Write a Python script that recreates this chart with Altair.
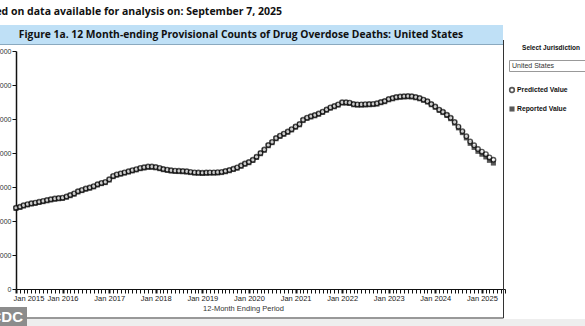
import altair as alt
import pandas as pd

# 12-month ending periods, Jan 2015 .. Apr 2025 (monthly)
periods = pd.date_range("2015-01-01", "2025-04-01", freq="MS").strftime("%Y-%m-%dT00:00:00").tolist()

predicted = [
    47.8, 48.4, 49.2, 49.9, 50.4, 50.8, 51.3, 51.8, 52.3, 52.8, 53.2, 53.5,
    53.7, 54.4, 55.3, 56.2, 57.5, 58.3, 59.1, 59.7, 60.5, 61.6, 62.4, 63.0,
    64.5, 66.5, 67.4, 68.0, 68.6, 69.2, 69.9, 70.5, 71.2, 71.6, 72.0, 72.0,
    71.7, 71.2, 70.6, 70.2, 69.8, 69.6, 69.5, 69.4, 69.2, 68.9, 68.6, 68.5,
    68.4, 68.5, 68.6, 68.6, 68.7, 68.9, 69.4, 70.0, 70.7, 71.5, 72.6, 73.8,
    74.7, 76.0, 77.8, 80.0, 82.0, 84.7, 86.5, 88.8, 90.2, 91.4, 92.6, 94.0,
    95.6, 97.0, 99.5, 100.8, 101.6, 102.3, 103.2, 104.3, 105.6, 106.8, 107.6, 108.6,
    109.8, 109.8, 109.6, 108.8, 108.6, 108.6, 108.7, 108.8, 108.9, 109.2, 110.0, 110.6,
    111.7, 112.3, 112.9, 113.2, 113.4, 113.5, 113.4, 112.9, 112.3, 111.4, 110.4, 108.8,
    107.3, 105.5, 104.2, 102.5, 100.7, 98.2, 95.5, 92.8, 89.8, 86.7, 84.5, 82.3,
    80.8, 79.3, 77.4, 76.0,
]

reported = [
    47.4, 48.0, 48.8, 49.5, 50.0, 50.4, 50.9, 51.4, 51.9, 52.4, 52.8, 53.1,
    53.3, 54.0, 54.9, 55.8, 57.1, 57.9, 58.7, 59.3, 60.1, 61.2, 62.0, 62.6,
    64.1, 66.1, 67.0, 67.6, 68.2, 68.8, 69.5, 70.1, 70.8, 71.2, 71.6, 71.6,
    71.3, 70.8, 70.2, 69.8, 69.4, 69.2, 69.1, 69.0, 68.8, 68.5, 68.2, 68.1,
    68.0, 68.1, 68.2, 68.2, 68.3, 68.5, 69.0, 69.6, 70.3, 71.1, 72.2, 73.4,
    74.3, 75.6, 77.4, 79.6, 81.6, 84.3, 86.1, 88.4, 89.8, 91.0, 92.2, 93.6,
    95.2, 96.6, 99.1, 100.4, 101.2, 101.9, 102.8, 103.9, 105.2, 106.4, 107.2, 108.2,
    109.4, 109.4, 109.2, 108.4, 108.2, 108.2, 108.3, 108.4, 108.5, 108.8, 109.6, 110.2,
    111.3, 111.9, 112.5, 112.8, 113.0, 113.1, 113.0, 112.5, 111.9, 111.0, 110.0, 108.4,
    106.9, 105.1, 103.8, 102.1, 100.2, 97.6, 94.8, 92.0, 88.9, 85.7, 83.3, 81.0,
    79.3, 77.7, 75.7, 74.1,
]

y_ticks = [0, 20000, 40000, 60000, 80000, 100000, 120000, 140000]

top_note = "Based on data available for analysis on: September 7, 2025"
fig_title = "Figure 1a. 12 Month-ending Provisional Counts of Drug Overdose Deaths: United States"
x_title = "12-Month Ending Period"

df = pd.DataFrame({
    "period": periods,
    "Predicted": [v * 1000 for v in predicted],
    "Reported": [v * 1000 for v in reported],
})

PL, PT = 16, 51  # plot origin in page pixels
W, H = 489, 238

def ax(v):
    return v - PL

def ay(v):
    return v - PT

one = alt.Data(values=[{"a": 1}])

x_enc = alt.X(
    "period:T",
    scale=alt.Scale(domain=["2015-01-01T00:00:00", "2025-07-01T00:00:00"]),
    axis=alt.Axis(
        title=x_title,
        titleFont="Liberation Sans",
        titleFontSize=7.5,
        titleFontWeight="normal",
        titleColor="#333333",
        titlePadding=3,
        titleX=227,
        tickCount=alt.TimeIntervalStep(interval="month", step=1),
        labelExpr="month(datum.value)==0 ? timeFormat(datum.value, '%b %Y') : ''",
        labelOverlap=False,
        labelFlush=True,
        labelFlushOffset=3,
        labelFont="Liberation Sans",
        labelFontSize=7.5,
        labelColor="#222222",
        labelPadding=1,
        tickColor="#111111",
        tickSize=4,
        tickWidth={"condition": {"test": "month(datum.value)==0", "value": 2}, "value": 1},
        domainColor="#111111",
        grid=False,
    ),
)

y_enc = alt.Y(
    "value:Q",
    scale=alt.Scale(domain=[0, 140000]),
    axis=alt.Axis(
        title=None,
        values=y_ticks,
        labelExpr="format(datum.value, ',.0f')",
        labelFont="Liberation Sans",
        labelFontSize=7,
        labelColor="#333333",
        labelPadding=1,
        tickColor="#111111",
        tickSize=4,
        domainColor="#111111",
        domainWidth=1.5,
        grid=False,
    ),
)

base = alt.Chart(df).transform_fold(["Predicted", "Reported"], as_=["series", "value"])

reported_pts = base.transform_filter("datum.series == 'Reported'").mark_point(
    shape="square", filled=True, color="#111111", size=26
).encode(x=x_enc, y=y_enc)

predicted_pts = base.transform_filter("datum.series == 'Predicted'").mark_point(
    shape="circle", filled=True, fill="white", stroke="#111111", strokeWidth=1.4, size=21
).encode(x=x_enc, y=y_enc)

# decorations (absolute page positions converted to plot coordinates)
def rect(x1, x2, y1, y2, fill, stroke=None, sw=0):
    kw = dict(fill=fill)
    if stroke:
        kw.update(stroke=stroke, strokeWidth=sw)
    return alt.Chart(one).mark_rect(**kw).encode(
        x=alt.value(ax(x1)), x2=alt.value(ax(x2)), y=alt.value(ay(y1)), y2=alt.value(ay(y2))
    )

def rule(x1, x2, y1, y2, color="#222222", w=1):
    return alt.Chart(one).mark_rule(color=color, strokeWidth=w).encode(
        x=alt.value(ax(x1)), x2=alt.value(ax(x2)), y=alt.value(ay(y1)), y2=alt.value(ay(y2))
    )

def text(t, x, y, size, weight="normal", align="left", color="#111111", font="Open Sans"):
    return alt.Chart(one).mark_text(
        text=t, fontSize=size, fontWeight=weight, align=align, baseline="middle",
        color=color, font=font
    ).encode(x=alt.value(ax(x)), y=alt.value(ay(y)))

band = rect(0, 503, 25, 44, "#bfe0f6")
band_line = rule(0, 503, 44.5, 44.5, color="#8aa9bf", w=1)
note = text(top_note, 282, 12, 10.5, weight="bold", align="right")
title = text(fig_title, 241, 34.5, 10.3, weight="bold", align="center")

panel_v = rule(503.5, 503.5, 40, 318, color="#333333", w=1)
panel_b = rule(0, 503.5, 318, 318, color="#333333", w=1)
bottom_strip = rect(0, 585, 319, 326, "#eeeeee")

sel = text("Select Jurisdiction", 551, 48, 6.5, weight="bold", align="center", font="Liberation Sans")
dd = rect(509.5, 590, 60.5, 71.5, "white", stroke="#999999", sw=1)
dd_txt = text("United States", 512, 66, 7, font="Liberation Sans", color="#333333")

leg_c = alt.Chart(one).mark_point(
    shape="circle", filled=True, fill="white", stroke="#111111", strokeWidth=1.6, size=22
).encode(x=alt.value(ax(512)), y=alt.value(ay(90)))
leg_c_t = text("Predicted Value", 517, 90, 6.8, weight="bold", font="Liberation Sans")
leg_s = alt.Chart(one).mark_point(
    shape="square", filled=True, color="#111111", size=26
).encode(x=alt.value(ax(512)), y=alt.value(ay(109)))
leg_s_t = text("Reported Value", 517, 109, 6.8, weight="bold", font="Liberation Sans")

cdc_box = rect(0, 27, 307, 326, "#8c8c8c")
cdc_txt = text("CDC", 23, 317, 15, weight="bold", align="right", color="white", font="Liberation Sans")

chart = alt.layer(
    band, band_line, note, title, bottom_strip, panel_v, panel_b,
    sel, dd, dd_txt, leg_c, leg_c_t, leg_s, leg_s_t,
    reported_pts, predicted_pts,
    cdc_box, cdc_txt,
).properties(
    width=W, height=H,
    autosize=alt.AutoSizeParams(type="none"),
    padding={"left": PL, "top": PT, "right": 585 - PL - W, "bottom": 326 - PT - H},
    background="white",
).configure_view(stroke=None)

chart.save("out.html", embed_options={"renderer": "svg", "actions": False})
